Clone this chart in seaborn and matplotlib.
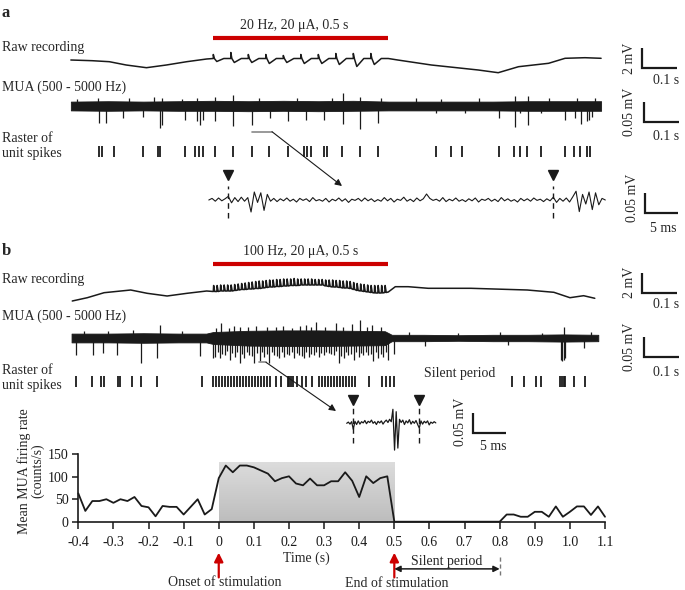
import numpy as np
import pandas as pd
import matplotlib
matplotlib.use("Agg")
import matplotlib.pyplot as plt
import seaborn as sns
from matplotlib.colors import LinearSegmentedColormap

sns.set_theme(style="ticks")
plt.rcParams['font.family'] = ['Liberation Serif', 'DejaVu Serif']
plt.rcParams['axes.unicode_minus'] = False

# ---------------- data ----------------
# Panel b, bottom: mean MUA firing rate (counts/s) in 20 ms bins
rate_time = np.linspace(-0.4, 1.1, 76)
rate_vals = [63, 24, 46, 46, 50, 42, 50, 46, 55, 35,
             32, 12, 35, 33, 33, 16, 33, 50, 16, 28,
             97, 125, 110, 125, 125, 121, 114, 107, 90, 97,
             101, 85, 81, 96, 81, 81, 90, 90, 110, 91,
             55, 101, 86, 97, 101,
             0, 0, 0, 0, 0, 0, 0, 0, 0, 0, 0, 0, 0, 0, 0, 0,
             16, 16, 11, 11, 22, 22, 11, 34, 11, 22, 34, 34, 15, 34, 11]
stim_box_top = 132
xtick_vals = [-0.4, -0.3, -0.2, -0.1, 0, 0.1, 0.2, 0.3, 0.4, 0.5, 0.6, 0.7, 0.8, 0.9, 1.0, 1.1]
xtick_labels = ['-0.4', '-0.3', '-0.2', '-0.1', '0', '0.1', '0.2', '0.3', '0.4', '0.5',
                '0.6', '0.7', '0.8', '0.9', '1.0', '1.1']
ytick_vals = [0, 50, 100, 150]

# Panel a raw recording (ms, mV)
raw_a_pre_t = [-407, -346, -297, -249, -191, -134, -76, -19]
raw_a_pre_v = [0.0, -0.07, -0.17, -0.5, -0.77, -0.5, -0.17, 0.1]
stim_a_pulses = [0, 50, 100, 150, 200, 250, 300, 350, 400, 450]
stim_a_base = 0.15
art_a_up = [0.4, 0.6, 0.4, 0.4, 0.3, 0.4, 0.4, 0.5, 0.5, 0.5]
art_a_dip = [0.3, 0.4, 0.4, 0.5, 0.4, 0.5, 0.5, 0.6, 0.8, 0.6]
raw_a_post_t = [500, 527, 623, 757, 814, 872, 958, 1005, 1062, 1108]
raw_a_post_v = [0.15, 0.0, -0.5, -1.0, -1.27, -0.67, -0.33, 0.17, 0.23, 0.17]

# Panel a MUA (ms, uV)
mua_a_band_t = [-407, -300, -200, -100, 0, 100, 200, 300, 400, 500, 600, 700, 800, 900, 1000, 1108]
mua_a_band_hi = [11, 12, 11, 12, 13, 12, 13, 12, 13, 11, 11, 11, 11, 12, 12, 12]
mua_a_band_lo = [-11, -12, -11, -12, -12, -13, -12, -13, -12, -11, -11, -11, -11, -12, -12, -12]
mua_a_spk_t = [-326, -306, -259, -202, -153, -148, -81, -47, -38, -30, 5, 57, 111, 163, 212, 264,
               315, 370, 419, 470, 637, 718, 815, 861, 876, 899, 936, 1005, 1034, 1051, 1068, 1074, 1082]
mua_a_spk_v = [-42, -42, -30, -28, -55, -48, -35, -38, -48, -35, -38, -50, -48, -30, -38, -35,
               -35, -45, -58, -42, -18, -18, -30, -52, -18, -48, -18, -35, -30, -45, -38, -35, -28]
mua_a_up_t = [-390, -330, -240, -170, -148, -90, -47, 5, 57, 130, 240, 340, 370, 419, 480, 580,
              650, 760, 861, 899, 960, 1040, 1090]
mua_a_up_v = [18, 20, 19, 22, 20, 18, 20, 22, 28, 19, 20, 19, 32, 22, 20, 19, 18, 20, 25, 25, 20, 21, 19]

# Panel a raster (ms)
raster_a = [-326, -317, -283, -202, -159, -153, -81, -53, -41, -30, 5, 57, 111, 160, 212,
            258, 269, 278, 315, 324, 367, 419, 470, 637, 680, 711, 815, 858, 876, 896, 936,
            1005, 1031, 1048, 1068, 1077]

# Panel a zoomed MUA (ms relative to pulse, uV)
inset_a_t = np.linspace(-3.0, 58.0, 123)
inset_a_v = [0, 4, -3, 5, -2, 3, 9, -7, 6, -4, 7, -3, 6, -30, 20, -6, 18, -26, 14, -3, 4,
             -4, 3, -2, 5, -3, 2, -5, 4, -1, 3,
             -4, 6, -2, 1, -3, 4, -5, 2, -2, 5,
             -3, 3, -6, 2, -1, 4, -3, 5, -2, 3,
             -4, 1, -3, 6, -2, 4, -5, 2, -1, 7,
             -3, 2, -4, 5, -2, 3, 15, 4, -1, 2,
             -3, 6, -4, 2, -2, 5, -3, 1, -4, 3,
             -2, 5, -5, 2, -1, 4, -3, 2, -4, 6,
             -2, 3, -3, 1, -5, 4, -2, 3, -3, 5,
             -1, 2, -4, 3, -2,
             7, -6, 4, -3, 5, -5, 8, 22, -29, 14, -10, 20, -24, 18, -12, 4, 0]
inset_a_pulses = [0, 50]

# Panel b raw recording (ms, mV)
raw_b_pre_t = [-403, -360, -312, -236, -189, -132, -75, -19]
raw_b_pre_v = [-1.1, -0.77, -0.27, 0.0, -0.33, -0.6, -0.33, -0.1]
stim_b_pulses = list(range(0, 500, 10))   # 100 Hz for 0.5 s
raw_b_hi = [0.45, 0.45, 0.5, 0.5, 0.5, 0.5, 0.55, 0.6, 0.65, 0.7,
            0.75, 0.8, 0.85, 0.9, 0.9, 0.95, 1.0, 1.0, 1.05, 1.05,
            1.1, 1.1, 1.1, 1.15, 1.1, 1.1, 1.1, 1.1, 1.1, 1.05,
            1.05, 1.05, 1.0, 1.0, 1.0, 0.95, 0.95, 0.9, 0.9, 0.85,
            0.75, 0.65, 0.6, 0.55, 0.5, 0.45, 0.45, 0.45, 0.45, 0.45]
raw_b_lo = [-0.15, -0.15, -0.1, -0.1, -0.1, -0.1, -0.05, 0.0, 0.05, 0.05,
            0.1, 0.1, 0.15, 0.15, 0.2, 0.25, 0.3, 0.3, 0.35, 0.35,
            0.4, 0.4, 0.45, 0.45, 0.45, 0.5, 0.5, 0.5, 0.5, 0.5,
            0.5, 0.5, 0.4, 0.35, 0.3, 0.3, 0.25, 0.2, 0.2, 0.15,
            0.05, -0.05, -0.1, -0.15, -0.2, -0.25, -0.3, -0.3, -0.3, -0.25]
raw_b_post_t = [500, 520, 557, 614, 736, 897, 973, 1019, 1058, 1090]
raw_b_post_v = [-0.2, 0.33, 0.33, 0.17, 0.17, 0.0, -0.23, -0.77, -0.57, -0.83]

# Panel b MUA (ms, uV)
mua_b_band_t = [-405, -300, -200, -100, -20, 0, 100, 200, 300, 400, 490, 510, 600, 700, 800, 900, 1000, 1100]
mua_b_band_hi = [11, 11, 12, 11, 11, 15, 18, 19, 19, 18, 17, 8, 8, 7, 8, 8, 9, 8]
mua_b_band_lo = [-11, -11, -12, -11, -11, -15, -19, -20, -20, -19, -18, -8, -8, -7, -8, -8, -9, -8]
mua_b_spk_t = [-392, -345, -316, -274, -208, -160, -38, 0,
               5, 12, 19, 26, 33, 40, 47, 54, 61, 68, 75, 82, 89, 96, 103, 110, 117, 124, 132, 139,
               146, 153, 160, 167, 174, 181, 188, 195, 202, 210, 217, 224, 231, 238, 245, 252,
               259, 266, 273, 280, 287, 294, 302, 309, 316, 323, 330, 337, 344, 351, 358, 365,
               372, 379, 386, 393, 401, 408, 415, 422, 429, 436, 443, 450, 457, 464, 471, 478,
               486, 493, 500, 515,
               605, 841, 992, 997, 1001, 1005, 1058]
mua_b_spk_v = [-42, -42, -38, -42, -62, -50, -45, -50,
               -47, -35, -50, -40, -42, -32, -54, -38, -47, -36, -62, -40, -50, -34, -42, -45,
               -62, -38, -58, -36, -47, -40, -62, -35, -42, -44, -50, -36, -47, -40, -42, -34,
               -50, -38, -42, -45, -50, -36, -47, -40, -42, -34, -47, -38, -42, -36, -38, -40,
               -42, -33, -62, -44, -50, -36, -42, -40, -54, -35, -47, -38, -42, -36, -42, -40,
               -58, -35, -50, -40, -47, -36, -55, -40,
               -20, -18, -55, -58, -55, -50, -25]
mua_b_up_t = [-370, -300, -230, -151, -90, 9, 23, 44, 58, 76, 100, 121, 152, 178, 200, 226, 248,
              265, 280, 293, 320, 350, 370, 396, 420, 440, 453, 480,
              560, 700, 820, 940, 1001, 1080]
mua_b_up_v = [18, 17, 19, 32, 18, 26, 38, 26, 30, 28, 27, 30, 28, 27, 30, 26, 29,
              32, 27, 40, 28, 38, 27, 35, 45, 28, 32, 27,
              14, 13, 14, 13, 28, 14]

# Panel b raster (ms)
raster_b = [-392, -346, -321, -313, -273, -267, -233, -208, -160,
            -32, -1, 8, 16, 25, 33, 42, 50, 59, 67, 76, 84, 93, 101, 110, 118, 127, 135, 144,
            152, 161, 180, 192, 212, 217, 223, 229, 240, 254, 266, 283, 302, 311, 319, 328,
            336, 345, 353, 362, 370, 379, 387, 396, 404, 444, 481, 492, 506, 515,
            853, 888, 921, 935, 991, 996, 1002, 1006, 1030, 1062]

# Panel b zoomed MUA (ms relative to pulse, uV)
inset_b_t = np.linspace(-1.0, 12.5, 55)
inset_b_v = [0, 3, -2, 4, -15, 5, -3, 6, -2, 4,
             1, 7, -1, 5, 2, 8, 0, 4, -3, 5,
             1, 6, -2, 4, 8, 2, 10, 4, 35, -67,
             29, -62, 10, 2, 8, -3, 6, 1, 9, -2,
             5, 0, 7, -3, -12, 6, -2, 5, 1, 6,
             -4, 3, 0, 4, 1]
inset_b_pulses = [0, 10]

# ---------------- figure ----------------
W, H = 685, 590
fig = plt.figure(figsize=(W / 100, H / 100), dpi=100)
RED = '#cc0000'
FS = 10


def ax_px(l, t, r, b):
    return fig.add_axes([l / W, 1 - b / H, (r - l) / W, (b - t) / H])


def ms_of(px):
    return (px - 213.3) / 0.35


TL = (ms_of(60), ms_of(612))


def trace_ax(top, bottom, ylim, xlim=TL, l=60, r=612):
    ax = ax_px(l, top, r, bottom)
    ax.set_xlim(*xlim)
    ax.set_ylim(*ylim)
    ax.axis('off')
    return ax


def scalebar(ax, x0, y0, dx, dy, vlab, hlab, vx, vy, hx, hy):
    ax.plot([x0, x0, x0 + dx], [y0 + dy, y0, y0], color='k', lw=1.6, clip_on=False,
            solid_joinstyle='miter', solid_capstyle='butt')
    ax.text(vx, vy, vlab, rotation=90, ha='center', va='center', fontsize=FS, clip_on=False)
    ax.text(hx, hy, hlab, ha='center', va='center', fontsize=FS, clip_on=False)


def draw_raw(ax, t, v):
    sns.lineplot(x=t, y=v, ax=ax, color='k', lw=1.1, estimator=None, sort=False)
    ax.set_xlim(*TL)


def draw_mua(ax, bt, bhi, blo, st, sv, ut, uv):
    ax.fill_between(bt, blo, bhi, color='k', lw=0.6, edgecolor='k')
    ax.vlines(st, 0, sv, color='k', lw=0.9)
    ax.vlines(ut, 0, uv, color='k', lw=0.9)


# ---- panel a raw
ax_ra = trace_ax(40, 80, (-2, 2))
t = list(raw_a_pre_t)
v = list(raw_a_pre_v)
for tk, up, dip in zip(stim_a_pulses, art_a_up, art_a_dip):
    t += [tk, tk, tk + 3, tk + 10, tk + 30]
    v += [stim_a_base, stim_a_base + up, stim_a_base, stim_a_base - dip, stim_a_base]
t += raw_a_post_t
v += raw_a_post_v
draw_raw(ax_ra, t, v)
ax_ra.plot([0, 500], [2.25, 2.25], color=RED, lw=3, solid_capstyle='butt', clip_on=False)
ax_ra.text(230, 3.5, '20 Hz, 20 μA, 0.5 s', ha='center', va='center', fontsize=FS, clip_on=False)
scalebar(ax_ra, ms_of(642), -0.83, 100, 2.0, '2 mV', '0.1 s',
         ms_of(629), 0.17, ms_of(666), -2.0)

# ---- panel a MUA
ax_ma = trace_ax(86, 136, (-75, 50))
draw_mua(ax_ma, mua_a_band_t, mua_a_band_hi, mua_a_band_lo, mua_a_spk_t, mua_a_spk_v,
         mua_a_up_t, mua_a_up_v)
scalebar(ax_ma, ms_of(644), -39.25, 100, 50, '0.05 mV', '0.1 s',
         ms_of(629), -15, ms_of(666), -75)

# ---- panel a raster
ax_sa = trace_ax(140.5, 162.5, (-1, 1))
ax_sa.eventplot(raster_a, lineoffsets=0, linelengths=1, linewidths=1.3, colors='k')
ax_sa.set_xlim(*TL)

# ---- panel a inset
ax_ia = trace_ax(165, 235, (-87.5, 87.5), xlim=((195 - 228.3) / 6.5, (615 - 228.3) / 6.5), l=195, r=615)
sns.lineplot(x=inset_a_t, y=inset_a_v, ax=ax_ia, color='k', lw=0.8, estimator=None)
ax_ia.vlines(inset_a_pulses, -45, 35, color='k', lw=1, linestyles=(0, (4, 3)))
ax_ia.plot(inset_a_pulses, [62, 62], 'v', color='k', ms=7, clip_on=False)
scalebar(ax_ia, (645 - 228.3) / 6.5, -33.25, 5, 50, '0.05 mV', '5 ms',
         (633 - 228.3) / 6.5, 5, (663 - 228.3) / 6.5, -70)

# ---- panel b raw
ax_rb = trace_ax(270, 310, (-2, 2))
t = list(raw_b_pre_t)
v = list(raw_b_pre_v)
for tk, hi, lo in zip(stim_b_pulses, raw_b_hi, raw_b_lo):
    t += [tk, tk + 1, tk + 4]
    v += [lo, hi, lo]
t += raw_b_post_t
v += raw_b_post_v
draw_raw(ax_rb, t, v)
ax_rb.plot([0, 500], [2.65, 2.65], color=RED, lw=3, solid_capstyle='butt', clip_on=False)
ax_rb.text(250, 3.9, '100 Hz, 20 μA, 0.5 s', ha='center', va='center', fontsize=FS, clip_on=False)
scalebar(ax_rb, ms_of(642), -0.27, 100, 2.0, '2 mV', '0.1 s',
         ms_of(629), 0.8, ms_of(666), -1.5)

# ---- panel b MUA
ax_mb = trace_ax(316, 366, (-70, 55))
draw_mua(ax_mb, mua_b_band_t, mua_b_band_hi, mua_b_band_lo, mua_b_spk_t, mua_b_spk_v,
         mua_b_up_t, mua_b_up_v)
scalebar(ax_mb, ms_of(644), -47.5, 100, 50, '0.05 mV', '0.1 s',
         ms_of(629), -22.5, ms_of(666), -85)

# ---- panel b raster
ax_sb = trace_ax(370.7, 392.7, (-1, 1))
ax_sb.eventplot(raster_b, lineoffsets=0, linelengths=1, linewidths=1.3, colors='k')
ax_sb.set_xlim(*TL)

# ---- panel b inset
ax_ib = trace_ax(395, 455, (-79.25, 70.75), xlim=((340 - 353.3) / 6.6, (520 - 353.3) / 6.6), l=340, r=520)
sns.lineplot(x=inset_b_t, y=inset_b_v, ax=ax_ib, color='k', lw=0.9, estimator=None)
ax_ib.vlines(inset_b_pulses, -49, 38, color='k', lw=1, linestyles=(0, (4, 3)))
ax_ib.plot(inset_b_pulses, [58, 58], 'v', color='k', ms=7, clip_on=False)
scalebar(ax_ib, (473 - 353.3) / 6.6, -25, 5, 50, '0.05 mV', '5 ms',
         (461 - 353.3) / 6.6, 3, (493 - 353.3) / 6.6, -57)

# ---- panel b firing-rate chart
axr = ax_px(78.3, 454.3, 605, 521.7)
grad = LinearSegmentedColormap.from_list('g', ['#bdbdbd', '#dcdcdc'])
axr.imshow(np.linspace(0, 1, 50).reshape(-1, 1), extent=(0, 0.5, 0, stim_box_top),
           origin='lower', aspect='auto', cmap=grad, zorder=0)
sns.lineplot(x=rate_time, y=rate_vals, ax=axr, color='k', lw=1.3, clip_on=False)
axr.set_xlim(-0.4, 1.1)
axr.set_ylim(0, 150)
axr.set_xticks(xtick_vals)
axr.set_xticklabels(xtick_labels)
axr.set_yticks(ytick_vals)
axr.tick_params(axis='x', direction='out', length=5, width=1.1, labelsize=FS, pad=5, colors='k')
axr.tick_params(axis='y', direction='out', length=4, width=1.1, labelsize=FS, pad=3, colors='k')
sns.despine(ax=axr)
for s in ['left', 'bottom']:
    axr.spines[s].set_linewidth(1.2)
    axr.spines[s].set_color('k')
axr.set_xlabel('')
axr.set_ylabel('')
axr.text(0.249, -81, 'Time (s)', ha='center', va='center', fontsize=FS)

# annotations under the chart
arrow_kw = dict(arrowstyle='-|>', color=RED, lw=1.6, mutation_scale=13, shrinkA=0, shrinkB=0)
axr.annotate('', xy=(0, -69), xytext=(0, -124), arrowprops=arrow_kw, annotation_clip=False)
axr.annotate('', xy=(0.5, -69), xytext=(0.5, -124), arrowprops=arrow_kw, annotation_clip=False)
axr.text(0.016, -135, 'Onset of stimulation', ha='center', va='center', fontsize=FS)
axr.text(0.508, -138, 'End of stimulation', ha='center', va='center', fontsize=FS)
axr.annotate('', xy=(0.8, -105), xytext=(0.5, -105),
             arrowprops=dict(arrowstyle='<|-|>', color='k', lw=1.1, mutation_scale=9,
                             shrinkA=0, shrinkB=0), annotation_clip=False)
axr.plot([0.8, 0.8], [-78, -118], color='#777777', lw=1, ls=(0, (3, 2)), clip_on=False)
axr.text(0.65, -88, 'Silent period', ha='center', va='center', fontsize=FS)

# ---- overlay for labels and connector arrows
ov = ax_px(0, 0, W, H)
ov.set_xlim(0, W)
ov.set_ylim(H, 0)
ov.axis('off')
ov.text(6, 13, 'a', fontsize=12, fontweight='bold', ha='center', va='center')
ov.text(6, 251, 'b', fontsize=12, fontweight='bold', ha='center', va='center')
for y, s in [(48, 'Raw recording'), (87, 'MUA (500 - 5000 Hz)'), (139, 'Raster of'),
             (154, 'unit spikes'), (279, 'Raw recording'), (316, 'MUA (500 - 5000 Hz)'),
             (370, 'Raster of'), (386, 'unit spikes')]:
    ov.text(2, y, s, fontsize=FS, ha='left', va='center')
ov.text(460, 373, 'Silent period', fontsize=FS, ha='center', va='center')
ov.text(31, 471, 'Mean MUA firing rate\n(counts/s)', fontsize=FS, rotation=90,
        ha='center', va='center', linespacing=1.0)
ov.plot([252, 272], [131.7, 131.7], color='#888888', lw=1.2)
ov.annotate('', xy=(342, 186), xytext=(272, 131.7),
            arrowprops=dict(arrowstyle='-|>', color='k', lw=0.8, mutation_scale=10, shrinkA=0, shrinkB=0))
ov.plot([259, 266], [362.3, 362.3], color='#888888', lw=1.2)
ov.annotate('', xy=(336, 411), xytext=(266, 362.3),
            arrowprops=dict(arrowstyle='-|>', color='k', lw=0.8, mutation_scale=10, shrinkA=0, shrinkB=0))

fig.savefig('out.png', dpi=100)
